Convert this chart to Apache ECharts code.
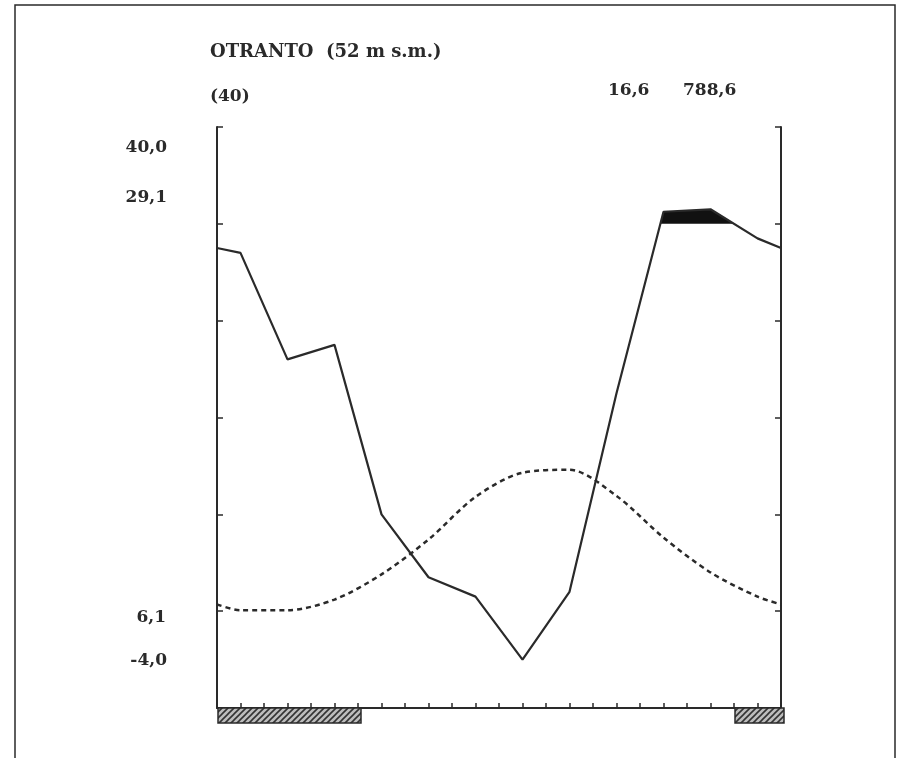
<!DOCTYPE html>
<html>
<head>
<meta charset="utf-8">
<title>Otranto</title>
<script src="https://cdn.jsdelivr.net/npm/echarts@6/dist/echarts.min.js"></script>
<style>
  html, body { margin: 0; padding: 0; background: #fff; }
  #main { width: 903px; height: 758px; }
</style>
</head>
<body>
<div id="main"></div>
<script>
// Otranto climate diagram (Walter-Lieth style)
var months = ['G', 'F', 'M', 'A', 'M', 'G', 'L', 'A', 'S', 'O', 'N', 'D'];
var tempC = [10.1, 10.1, 11.2, 13.8, 17.4, 21.8, 24.3, 24.6, 21.9, 17.6, 14.0, 11.5];
var precipMm = [94, 72, 75, 40, 27, 23, 10, 24, 65, 125, 130, 97];
var frostMonths = [1, 1, 1, 0, 0, 0, 0, 0, 0, 0, 0, 1];
var edgeTemp = 10.7;     // value read at the Jan 1 / Dec 31 edges
var edgePrecip = 95;

var station = 'OTRANTO  (52 m s.m.)';
var years = '(40)';
var meanTemp = '16,6';
var totalPrecip = '788,6';
var tempLabels = ['40,0', '29,1', '6,1', '-4,0'];

// above 100 mm the precipitation scale is reduced to 1/10
function precipScale(v) {
    return v <= 100 ? v : 100 + (v - 100) / 10;
}

function withEdges(values, edge, fn) {
    var pts = [[0, fn(edge)]];
    values.forEach(function (v, i) { pts.push([i + 0.5, fn(v)]); });
    pts.push([months.length, fn(edge)]);
    return pts;
}

var tempLine = withEdges(tempC, edgeTemp, function (v) { return v; });
var precipLine = withEdges(precipMm, edgePrecip, precipScale);

// parts of the precipitation curve above 100 mm (filled black)
function excessRuns(pts) {
    var runs = [], cur = null;
    for (var i = 0; i < pts.length; i++) {
        var p = pts[i];
        if (i > 0) {
            var q = pts[i - 1];
            if ((q[1] - 100) * (p[1] - 100) < 0) {
                var t = (100 - q[1]) / (p[1] - q[1]);
                var cx = q[0] + t * (p[0] - q[0]);
                if (cur) { cur.push([cx, 100]); runs.push(cur); cur = null; }
                else cur = [[cx, 100]];
            }
        }
        if (p[1] >= 100) {
            if (!cur) cur = [[p[0], 100]];
            cur.push(p);
        }
    }
    if (cur) { cur.push([cur[cur.length - 1][0], 100]); runs.push(cur); }
    return runs;
}
var runs = excessRuns(precipLine);

// consecutive frost months -> bars
var frostRanges = [];
frostMonths.forEach(function (f, i) {
    if (!f) return;
    var last = frostRanges[frostRanges.length - 1];
    if (last && last[1] === i) last[1] = i + 1;
    else frostRanges.push([i, i + 1]);
});

// hatch pattern
var hatch = document.createElement('canvas');
hatch.width = 6; hatch.height = 6;
var hc = hatch.getContext('2d');
hc.fillStyle = '#bdbdbd';
hc.fillRect(0, 0, 6, 6);
hc.strokeStyle = '#333';
hc.lineWidth = 1.6;
hc.beginPath();
hc.moveTo(0, 6); hc.lineTo(6, 0);
hc.moveTo(-1, 1); hc.lineTo(1, -1);
hc.moveTo(5, 7); hc.lineTo(7, 5);
hc.stroke();

var ink = '#2a2a2a';
var font = 'bold 17px "DejaVu Serif"';

var chart = echarts.init(document.getElementById('main'));

var option = {
    backgroundColor: '#fff',
    animation: false,
    grid: { left: 217, right: 122, top: 127, bottom: 50 },
    xAxis: {
        type: 'value', min: 0, max: 12, interval: 0.5,
        axisLine: { show: true, lineStyle: { color: ink, width: 2 } },
        axisTick: { show: true, inside: true, length: 5, lineStyle: { color: ink, width: 1.5 } },
        axisLabel: { show: false },
        splitLine: { show: false }
    },
    yAxis: [
        {
            type: 'value', min: 0, max: 60, interval: 10, position: 'left',
            axisLine: { show: true, lineStyle: { color: ink, width: 2 } },
            axisTick: { show: true, inside: true, length: 6, lineStyle: { color: ink, width: 1.5 } },
            axisLabel: { show: false },
            splitLine: { show: false }
        },
        {
            type: 'value', min: 0, max: 120, interval: 20, position: 'right',
            axisLine: { show: true, lineStyle: { color: ink, width: 2 } },
            axisTick: { show: true, inside: true, length: 6, lineStyle: { color: ink, width: 1.5 } },
            axisLabel: { show: false },
            splitLine: { show: false }
        }
    ],
    series: [
        {
            type: 'custom',
            yAxisIndex: 1,
            z: 2,
            data: runs.map(function (r, i) { return [i, 0]; }),
            renderItem: function (params, api) {
                var run = runs[params.dataIndex];
                return {
                    type: 'polygon',
                    shape: { points: run.map(function (p) { return api.coord(p); }) },
                    style: { fill: '#111' }
                };
            }
        },
        {
            type: 'custom',
            z: 2,
            data: frostRanges.map(function (r, i) { return [i, 0]; }),
            renderItem: function (params, api) {
                var r = frostRanges[params.dataIndex];
                var a = api.coord([r[0], 0]);
                var b = api.coord([r[1], 0]);
                return {
                    type: 'rect',
                    shape: { x: a[0] + 1, y: a[1], width: b[0] - a[0] + 2, height: 15 },
                    style: { fill: { image: hatch, repeat: 'repeat' }, stroke: ink, lineWidth: 1.5 }
                };
            }
        },
        {
            name: 'precipitazioni',
            type: 'line',
            yAxisIndex: 1,
            z: 3,
            data: precipLine,
            symbol: 'none',
            lineStyle: { color: ink, width: 2.2 }
        },
        {
            name: 'temperatura',
            type: 'line',
            yAxisIndex: 0,
            z: 3,
            data: tempLine,
            symbol: 'none',
            smooth: 0.3,
            lineStyle: { color: ink, width: 2.5, type: [5, 4] }
        }
    ],
    graphic: [
        { type: 'rect', shape: { x: 15, y: 5, width: 880, height: 800 },
          style: { fill: 'none', stroke: ink, lineWidth: 1.5 } },
        { type: 'text', x: 210, y: 52, style: { text: station, font: 'bold 18px "DejaVu Serif"', fill: ink, textVerticalAlign: 'middle' } },
        { type: 'text', x: 210, y: 97, style: { text: years, font: font, fill: ink, textVerticalAlign: 'middle' } },
        { type: 'text', x: 608, y: 91, style: { text: meanTemp, font: font, fill: ink, textVerticalAlign: 'middle' } },
        { type: 'text', x: 683, y: 91, style: { text: totalPrecip, font: font, fill: ink, textVerticalAlign: 'middle' } },
        { type: 'text', x: 167, y: 148, style: { text: tempLabels[0], font: font, fill: ink, textAlign: 'right', textVerticalAlign: 'middle' } },
        { type: 'text', x: 167, y: 198, style: { text: tempLabels[1], font: font, fill: ink, textAlign: 'right', textVerticalAlign: 'middle' } },
        { type: 'text', x: 166, y: 618, style: { text: tempLabels[2], font: font, fill: ink, textAlign: 'right', textVerticalAlign: 'middle' } },
        { type: 'text', x: 167, y: 661, style: { text: tempLabels[3], font: font, fill: ink, textAlign: 'right', textVerticalAlign: 'middle' } }
    ]
};

chart.setOption(option);
window.onresize = chart.resize;
</script>
</body>
</html>
